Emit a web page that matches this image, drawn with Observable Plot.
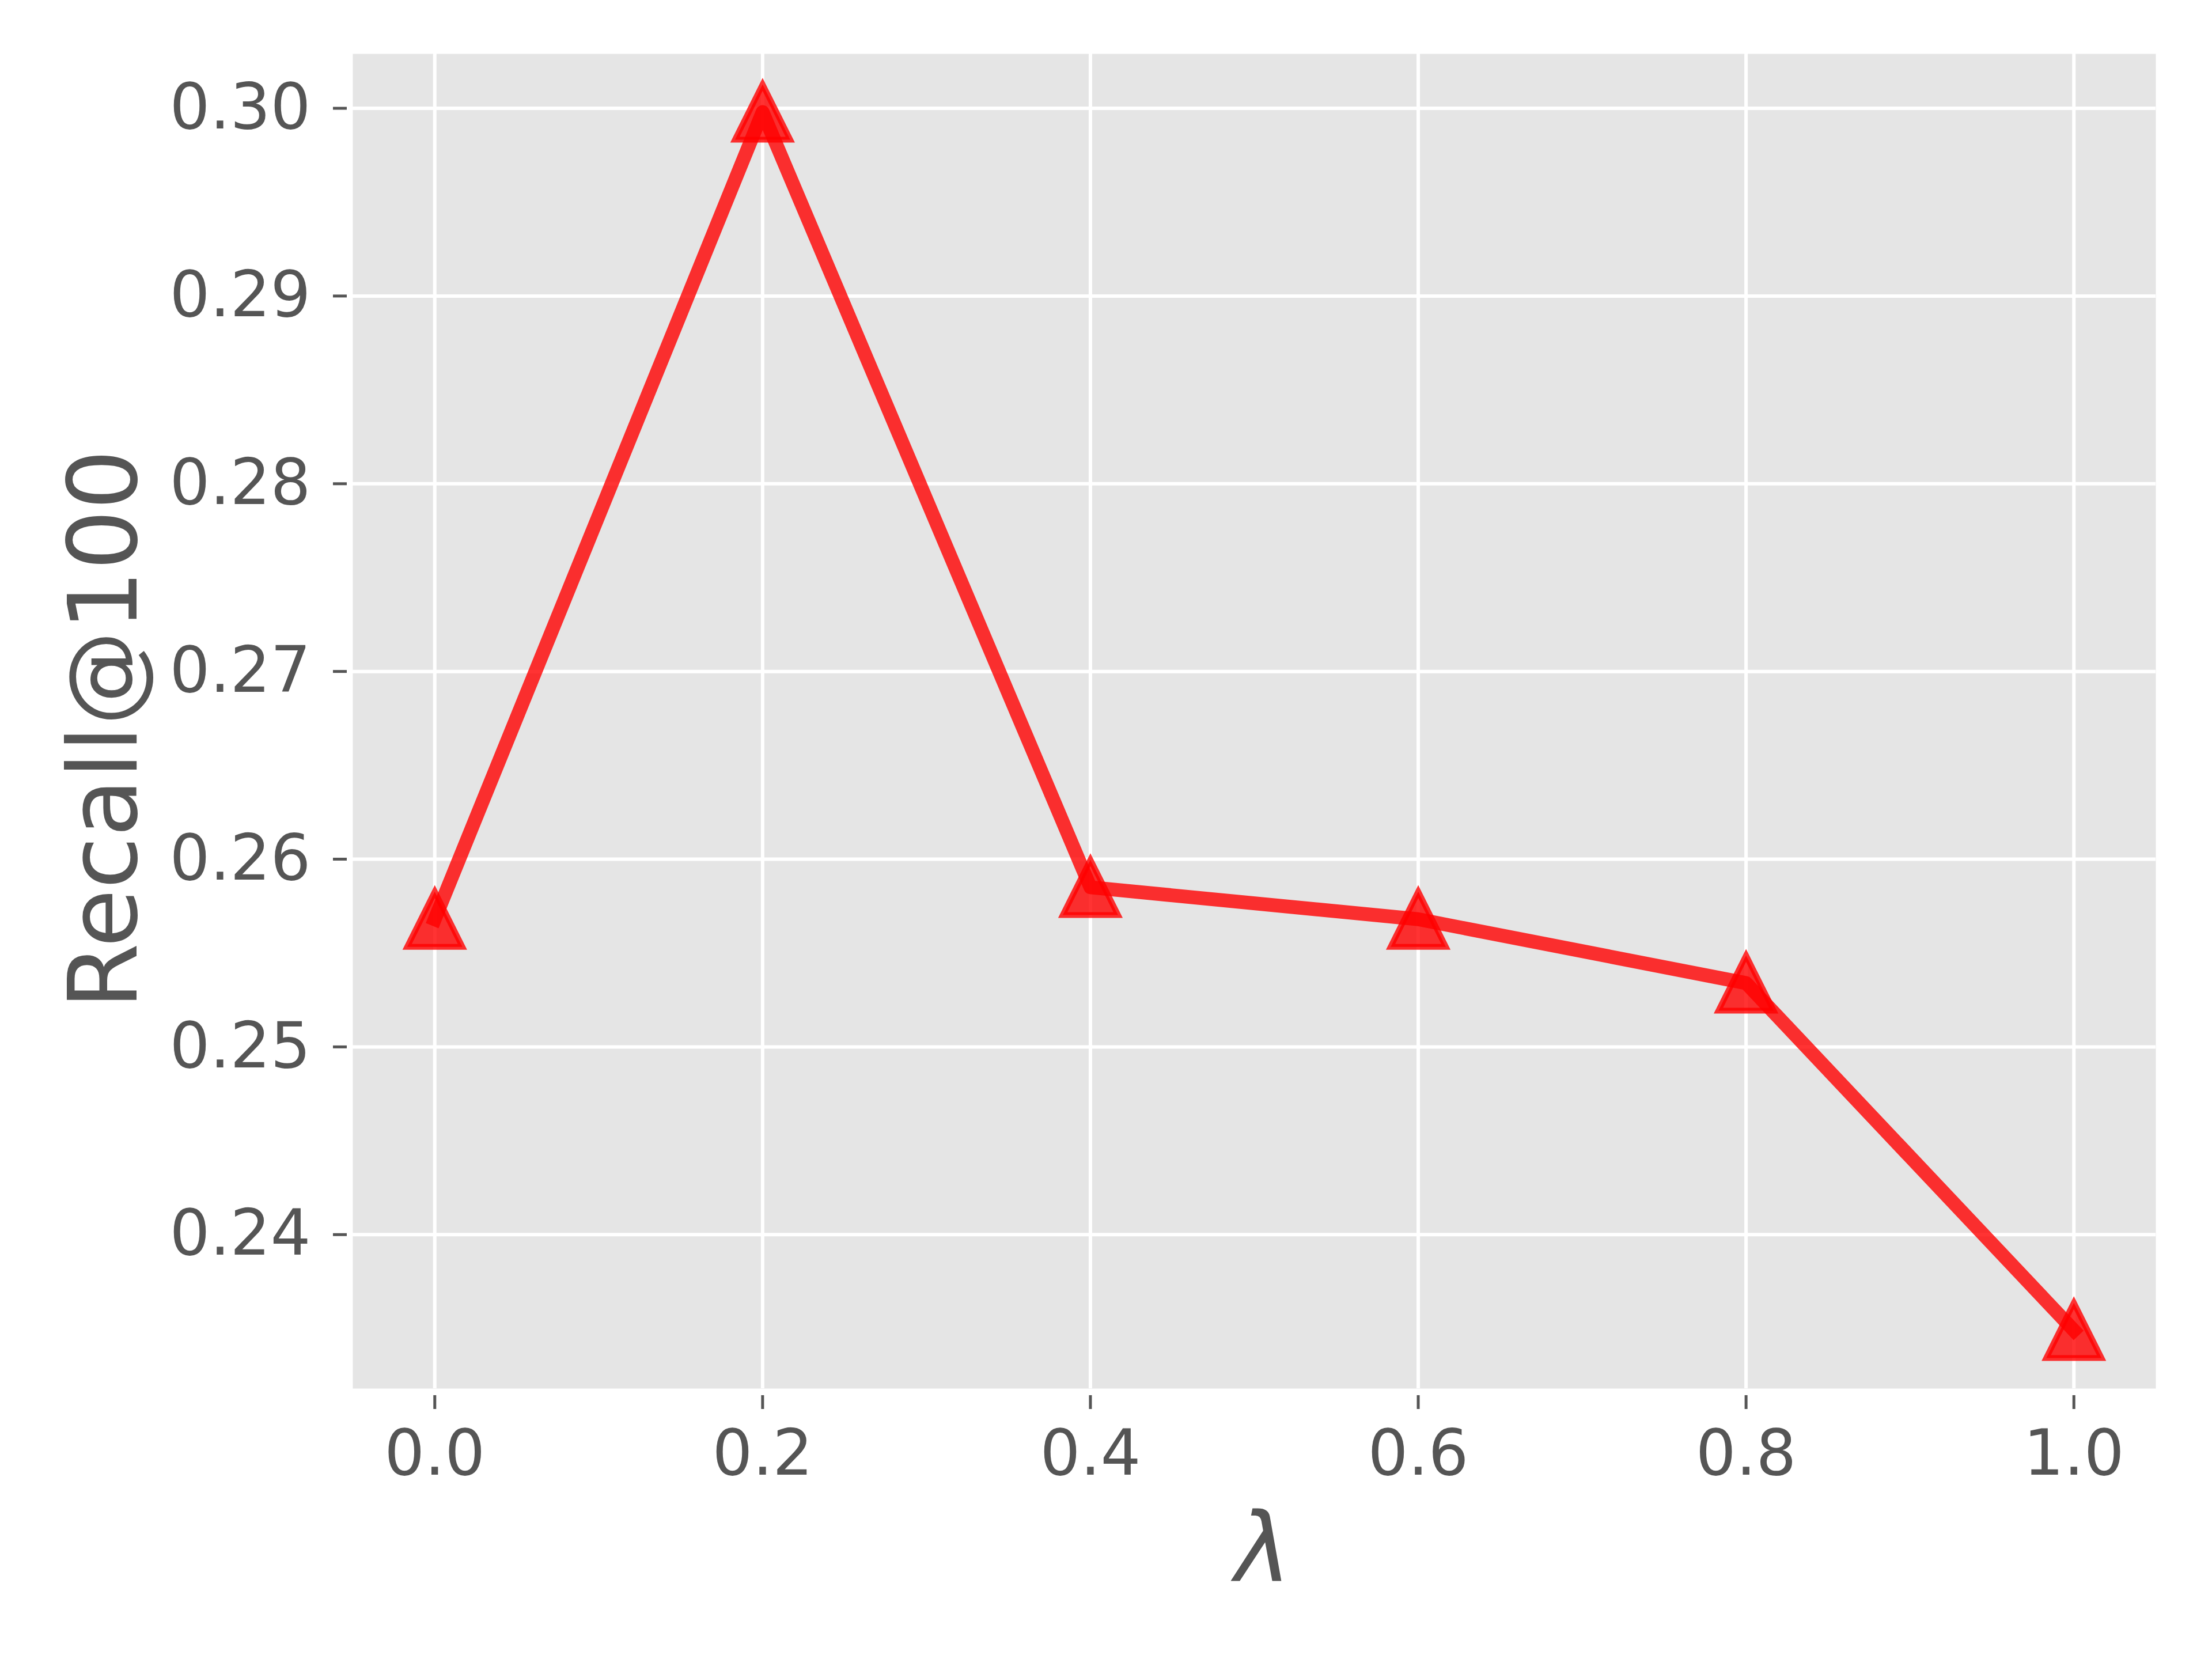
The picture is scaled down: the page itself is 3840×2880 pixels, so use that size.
<!DOCTYPE html>
<html>
<head>
<meta charset="utf-8">
<script src="https://cdn.jsdelivr.net/npm/d3@7"></script>
<script src="https://cdn.jsdelivr.net/npm/@observablehq/plot@0.6"></script>
<style>
  html, body { margin: 0; padding: 0; background: #ffffff; }
  #chart { width: 3840px; height: 2880px; }
</style>
</head>
<body>
<div id="chart"></div>
<script>
// Data
const lambdas = [0.0, 0.2, 0.4, 0.6, 0.8, 1.0];
const recall = [0.2568, 0.2998, 0.2585, 0.2568, 0.2534, 0.2349];
const xTicks = [0.0, 0.2, 0.4, 0.6, 0.8, 1.0];
const yTicks = [0.24, 0.25, 0.26, 0.27, 0.28, 0.29, 0.30];
const xLabel = "λ";
const yLabel = "Recall@100";

const data = lambdas.map((l, i) => ({lambda: l, recall: recall[i]}));

// matplotlib-style "^" marker: width = height
const triangleUp = {
  draw(context, size) {
    const h = Math.sqrt(size / Math.PI);
    context.moveTo(0, -h);
    context.lineTo(h, h);
    context.lineTo(-h, h);
    context.closePath();
  }
};

const textColor = "#555555";

const chart = Plot.plot({
  width: 3840,
  height: 2880,
  marginLeft: 612,
  marginRight: 98,
  marginTop: 93,
  marginBottom: 470,
  style: {fontFamily: "DejaVu Sans", background: "#ffffff", overflow: "visible"},
  x: {domain: [-0.05, 1.05], axis: null},
  y: {domain: [0.2318, 0.3029], axis: null},
  marks: [
    Plot.frame({fill: "#E5E5E5", stroke: null}),
    Plot.gridX(xTicks, {stroke: "#ffffff", strokeOpacity: 1, strokeWidth: 6}),
    Plot.gridY(yTicks, {stroke: "#ffffff", strokeOpacity: 1, strokeWidth: 6}),
    Plot.axisX(xTicks, {
      anchor: "bottom", tickSize: 24, tickPadding: 35, dy: 12,
      tickFormat: d => d.toFixed(1), fontSize: 110, fill: textColor,
      stroke: textColor, strokeWidth: 5, label: null
    }),
    Plot.axisY(yTicks, {
      anchor: "left", tickSize: 24, tickPadding: 39, dx: -10,
      tickFormat: d => d.toFixed(2), fontSize: 110, fill: textColor,
      stroke: textColor, strokeWidth: 5, label: null
    }),
    Plot.line(data, {
      x: "lambda", y: "recall", stroke: "#ff0000", strokeOpacity: 0.8,
      strokeWidth: 24, strokeLinejoin: "round", strokeLinecap: "square"
    }),
    Plot.dot(data, {
      x: "lambda", y: "recall", symbol: triangleUp, r: 48,
      fill: "#ff0000", fillOpacity: 0.8, stroke: "#ff0000", strokeOpacity: 0.8,
      strokeWidth: 10
    }),
    Plot.text([xLabel], {
      frameAnchor: "bottom", dx: 15, dy: 333, lineAnchor: "bottom", textAnchor: "middle",
      fontSize: 165, fill: textColor, fontStyle: "italic"
    }),
    Plot.text([yLabel], {
      frameAnchor: "left", dx: -428, dy: 14, rotate: -90, lineAnchor: "middle",
      textAnchor: "middle", fontSize: 165, fill: textColor
    })
  ]
});

document.getElementById("chart").appendChild(chart);
</script>
</body>
</html>
